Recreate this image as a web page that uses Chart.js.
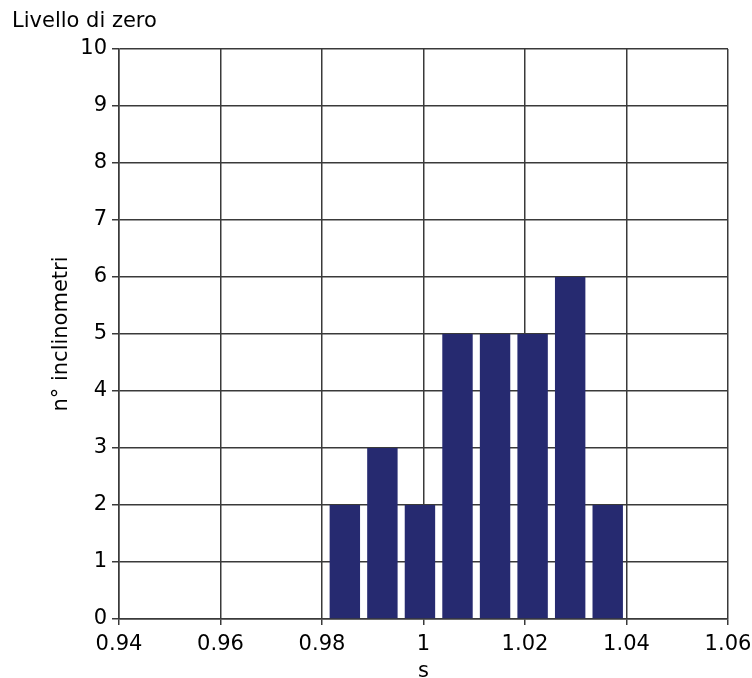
<!DOCTYPE html>
<html>
<head>
<meta charset="utf-8">
<script src="https://cdn.jsdelivr.net/npm/chart.js@4/dist/chart.umd.min.js"></script>
<style>
  html, body { margin: 0; padding: 0; background: #ffffff; }
  #wrap { width: 752px; height: 678px; }
</style>
</head>
<body>
<div id="wrap"><canvas id="c" width="752" height="678"></canvas></div>
<script>
// Histogram of zero-level readings
const binCenters = [0.9845, 0.9919, 0.9993, 1.0067, 1.0141, 1.0215, 1.0289, 1.0363];
const counts = [2, 3, 2, 5, 5, 5, 6, 2];
const xTickLabels = ['0.94', '0.96', '0.98', '1', '1.02', '1.04', '1.06'];
const yTickValues = [0, 1, 2, 3, 4, 5, 6, 7, 8, 9, 10];

const FONT = 'DejaVu Sans';
const FS = 21;
const gridColor = '#3a3a3a';

new Chart(document.getElementById('c'), {
  type: 'bar',
  data: {
    datasets: [{
      data: binCenters.map((x, i) => ({ x: x, y: counts[i] })),
      backgroundColor: '#262a70',
      borderWidth: 0,
      categoryPercentage: 1,
      barPercentage: 0.81
    }]
  },
  options: {
    responsive: false,
    animation: false,
    layout: { padding: { left: 12, right: 24, top: 0, bottom: 0 } },
    plugins: {
      legend: { display: false },
      tooltip: { enabled: false },
      title: {
        display: true,
        text: 'Livello di zero',
        align: 'start',
        color: '#000000',
        font: { family: FONT, size: FS, weight: 'normal' },
        padding: { top: 9, bottom: 14.8 }
      }
    },
    scales: {
      x: {
        type: 'linear',
        min: 0.94,
        max: 1.06,
        offset: false,
        afterFit: (s) => { s.height = 59; s.paddingLeft = 0; s.paddingRight = 0; },
        ticks: {
          stepSize: 0.02,
          color: '#000000',
          font: { family: FONT, size: FS },
          padding: 7,
          maxRotation: 0,
          callback: (v, i) => xTickLabels[i]
        },
        grid: { color: gridColor, lineWidth: 1.5, tickLength: 6, offset: false },
        border: { color: gridColor, width: 1.5 },
        title: {
          display: true,
          text: 's',
          color: '#000000',
          font: { family: FONT, size: FS },
          padding: { top: 0, bottom: -6 }
        }
      },
      y: {
        min: 0,
        max: 10,
        afterFit: (s) => { s.width = 107; s.paddingTop = 0; s.paddingBottom = 0; },
        afterBuildTicks: (s) => { s.ticks = yTickValues.map(v => ({ value: v })); },
        ticks: {
          stepSize: 1,
          color: '#000000',
          font: { family: FONT, size: FS },
          padding: 5
        },
        grid: { color: gridColor, lineWidth: 1.5, tickLength: 7 },
        border: { color: gridColor, width: 1.5 },
        title: {
          display: true,
          text: 'n° inclinometri',
          color: '#000000',
          font: { family: FONT, size: FS },
          padding: { top: 37, bottom: 0 }
        }
      }
    }
  }
});
</script>
</body>
</html>
